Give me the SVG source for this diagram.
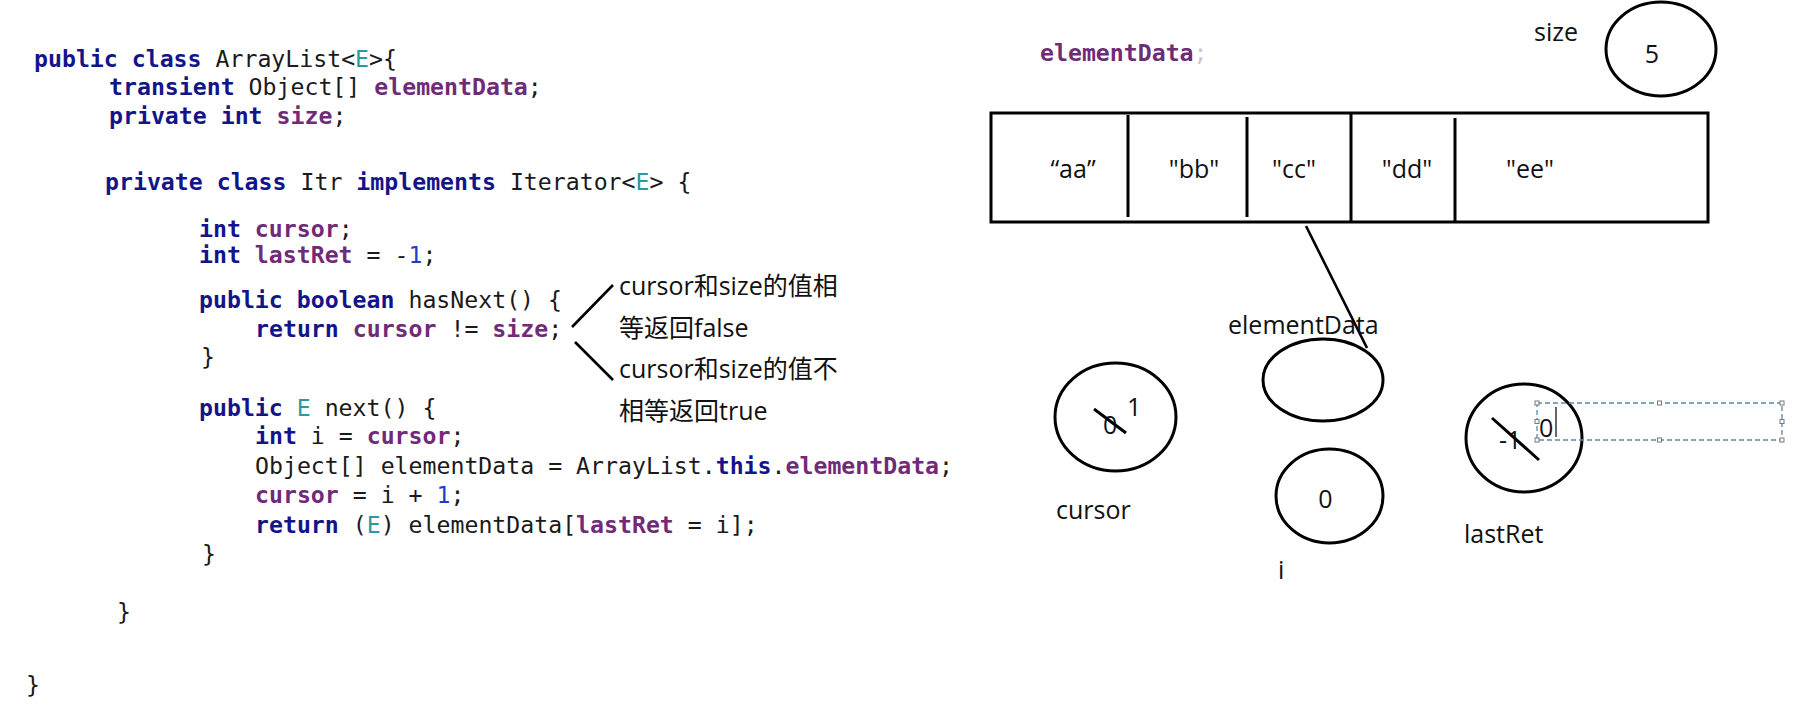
<svg xmlns="http://www.w3.org/2000/svg" width="1798" height="706" viewBox="0 0 1798 706">
<style>
.code{font-family:"DejaVu Sans Mono","Liberation Mono",monospace;font-size:23.2px;fill:#1a1a1a;white-space:pre}
.k{fill:#14148a;font-weight:bold}
.f{fill:#702a78;font-weight:bold}
.t{fill:#2e97a6}
.n{fill:#1f3cc8}
.lbl{font-family:"Open Sans","Noto Sans CJK SC",sans-serif;font-size:25px;fill:#111}
.cjk{font-family:"Open Sans","Noto Sans CJK SC",sans-serif;font-size:25px;fill:#111}
.shape{fill:none;stroke:#000;stroke-width:3}
.conn{stroke:#000;stroke-width:2.6;fill:none}
.strike{stroke:#000;stroke-width:3}
.handle{fill:#fff;stroke:#777;stroke-width:1}
</style>
<rect width="1798" height="706" fill="#fff"/>

<g id="code">
<text class="code" x="34" y="67"><tspan class="k">public</tspan> <tspan class="k">class</tspan> ArrayList&lt;<tspan class="t">E</tspan>&gt;{</text>
<text class="code" x="109" y="95"><tspan class="k">transient</tspan> Object[] <tspan class="f">elementData</tspan>;</text>
<text class="code" x="109" y="124"><tspan class="k">private</tspan> <tspan class="k">int</tspan> <tspan class="f">size</tspan>;</text>
<text class="code" x="105" y="190"><tspan class="k">private</tspan> <tspan class="k">class</tspan> Itr <tspan class="k">implements</tspan> Iterator&lt;<tspan class="t">E</tspan>&gt; {</text>
<text class="code" x="199" y="237"><tspan class="k">int</tspan> <tspan class="f">cursor</tspan>;</text>
<text class="code" x="199" y="263"><tspan class="k">int</tspan> <tspan class="f">lastRet</tspan> = -<tspan class="n">1</tspan>;</text>
<text class="code" x="199" y="308"><tspan class="k">public</tspan> <tspan class="k">boolean</tspan> hasNext() {</text>
<text class="code" x="255" y="337"><tspan class="k">return</tspan> <tspan class="f">cursor</tspan> != <tspan class="f">size</tspan>;</text>
<text class="code" x="201" y="365">}</text>
<text class="code" x="199" y="416"><tspan class="k">public</tspan> <tspan class="t">E</tspan> next() {</text>
<text class="code" x="255" y="444"><tspan class="k">int</tspan> i = <tspan class="f">cursor</tspan>;</text>
<text class="code" x="255" y="474">Object[] elementData = ArrayList.<tspan class="k">this</tspan>.<tspan class="f">elementData</tspan>;</text>
<text class="code" x="255" y="503"><tspan class="f">cursor</tspan> = i + <tspan class="n">1</tspan>;</text>
<text class="code" x="255" y="533"><tspan class="k">return</tspan> (<tspan class="t">E</tspan>) elementData[<tspan class="f">lastRet</tspan> = i];</text>
<text class="code" x="202" y="562">}</text>
<text class="code" x="117" y="620">}</text>
<text class="code" x="26" y="693">}</text>
</g>

<g id="note">
<text class="cjk" x="619" y="295">cursor和size的值相</text>
<text class="cjk" x="619" y="337">等返回false</text>
<text class="cjk" x="619" y="378">cursor和size的值不</text>
<text class="cjk" x="619" y="420">相等返回true</text>
</g>

<g id="connectors">
<line class="conn" x1="613" y1="285" x2="572" y2="327"/>
<line class="conn" x1="575" y1="342" x2="613" y2="380"/>
<line class="conn" x1="1306" y1="226" x2="1367" y2="348"/>
</g>

<g id="elementDataHeader">
<text class="code" x="1040" y="61"><tspan class="f">elementData</tspan><tspan fill="#c8c8c8">;</tspan></text>
</g>

<g id="array">
<rect class="shape" x="991" y="113" width="717" height="109"/>
<line class="shape" x1="1128" y1="115" x2="1128" y2="217"/>
<line class="shape" x1="1247" y1="117" x2="1247" y2="217"/>
<line class="shape" x1="1351" y1="113" x2="1351" y2="222"/>
<line class="shape" x1="1455" y1="118" x2="1455" y2="222"/>
<text class="lbl" x="1073" y="178" text-anchor="middle">“aa”</text>
<text class="lbl" x="1194" y="178" text-anchor="middle">"bb"</text>
<text class="lbl" x="1294" y="178" text-anchor="middle">"cc"</text>
<text class="lbl" x="1407" y="178" text-anchor="middle">"dd"</text>
<text class="lbl" x="1530" y="178" text-anchor="middle">"ee"</text>
</g>

<g id="size">
<text class="lbl" x="1534" y="41">size</text>
<ellipse class="shape" cx="1661" cy="49" rx="55" ry="47"/>
<text class="lbl" x="1652" y="63" text-anchor="middle">5</text>
</g>

<g id="elementData">
<text class="lbl" x="1228" y="334">elementData</text>
<ellipse class="shape" cx="1323" cy="380" rx="60" ry="41"/>
</g>

<g id="cursor">
<ellipse class="shape" cx="1115.5" cy="417" rx="60.5" ry="54"/>
<text class="lbl" x="1103" y="434">0</text>
<line class="strike" x1="1094" y1="409" x2="1126" y2="433"/>
<text class="lbl" x="1127" y="416">1</text>
<text class="lbl" x="1056" y="519">cursor</text>
</g>

<g id="i">
<ellipse class="shape" cx="1329.5" cy="496" rx="53.5" ry="47"/>
<text class="lbl" x="1325.5" y="508" text-anchor="middle">0</text>
<text class="lbl" x="1278" y="579">i</text>
</g>

<g id="lastRet">
<ellipse class="shape" cx="1524" cy="438" rx="58" ry="54"/>
<text class="lbl" x="1499" y="449">-1</text>
<line class="strike" x1="1492" y1="418" x2="1539" y2="460"/>
<text class="lbl" x="1464" y="543">lastRet</text>
</g>

<g id="editbox">
<rect x="1537" y="403" width="245" height="37" fill="none" stroke="#5b8aa8" stroke-width="1.3" stroke-dasharray="5 3"/>
<text class="lbl" x="1539" y="437" font-size="29">0</text>
<line x1="1556" y1="407" x2="1556" y2="437" stroke="#000" stroke-width="1.2"/>
<rect class="handle" x="1535" y="401" width="4" height="4"/>
<rect class="handle" x="1657.5" y="401" width="4" height="4"/>
<rect class="handle" x="1780" y="401" width="4" height="4"/>
<rect class="handle" x="1535" y="419.5" width="4" height="4"/>
<rect class="handle" x="1780" y="419.5" width="4" height="4"/>
<rect class="handle" x="1535" y="438" width="4" height="4"/>
<rect class="handle" x="1657.5" y="438" width="4" height="4"/>
<rect class="handle" x="1780" y="438" width="4" height="4"/>
</g>
</svg>
